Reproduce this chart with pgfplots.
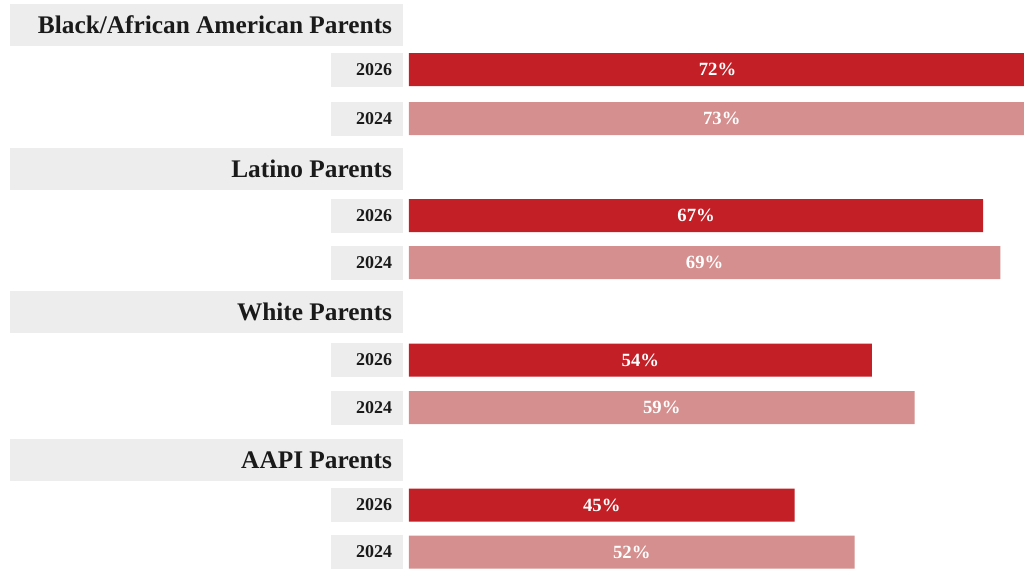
\documentclass[border=0pt]{standalone}
\usepackage{pgfplots}
\pgfplotsset{compat=1.18}
\usepackage{fontspec}
\setmainfont{Liberation Serif}
\newdimen\px \px=0.75pt
\definecolor{darkred}{HTML}{C21F26}
\definecolor{lightred}{HTML}{D48F8E}
\definecolor{boxgray}{HTML}{EDEDED}
\definecolor{txt}{HTML}{1A1A1A}
\newcommand{\hdr}[1]{{\fboxsep=0pt\colorbox{boxgray}{\parbox[c][42\px][c]{393\px}{\raggedleft\fontsize{19pt}{22pt}\selectfont\bfseries\color{txt}#1\hspace*{11\px}}}}}
\newcommand{\yr}[1]{{\fboxsep=0pt\colorbox{boxgray}{\parbox[c][34\px][c]{72\px}{\raggedleft\fontsize{13.5pt}{16pt}\selectfont\bfseries\color{txt}#1\hspace*{11\px}}}}}
\begin{document}
\begin{tikzpicture}
\useasboundingbox (-306.75pt,0pt) rectangle (461.25pt,426pt);
\begin{axis}[
  at={(0pt,0pt)}, anchor=south west,
  scale only axis, width=482.0625pt, height=426pt,
  xmin=0, xmax=75, ymin=0, ymax=568, y dir=reverse,
  axis line style={draw=none}, tick style={draw=none},
  xtick=\empty,
  ytick={25,69.5,118.5,169,215.5,262.5,311.5,360,407.5,460,505,552},
  yticklabels={\hdr{Black/African American Parents},\yr{2026},\yr{2024},
               \hdr{Latino Parents},\yr{2026},\yr{2024},
               \hdr{White Parents},\yr{2026},\yr{2024},
               \hdr{AAPI Parents},\yr{2026},\yr{2024}},
  yticklabel style={anchor=east, inner sep=0pt, xshift=0pt},
  xbar, bar width=24.75pt, bar shift=0pt,
  point meta=explicit symbolic,
  nodes near coords,
  visualization depends on={x \as \xv},
  every node near coord/.append style={anchor=center, xshift={-\xv*3.21375pt}, text=white, font=\fontsize{14pt}{16pt}\selectfont\bfseries, inner sep=0pt},
]
\addplot[fill=darkred, draw=none] coordinates {
  (72,69.5) [72\%]
  (67,215.5) [67\%]
  (54,360) [54\%]
  (45,505) [45\%]
};
\addplot[fill=lightred, draw=none] coordinates {
  (73,118.5) [73\%]
  (69,262.5) [69\%]
  (59,407.5) [59\%]
  (52,552) [52\%]
};
\end{axis}
\end{tikzpicture}
\end{document}
